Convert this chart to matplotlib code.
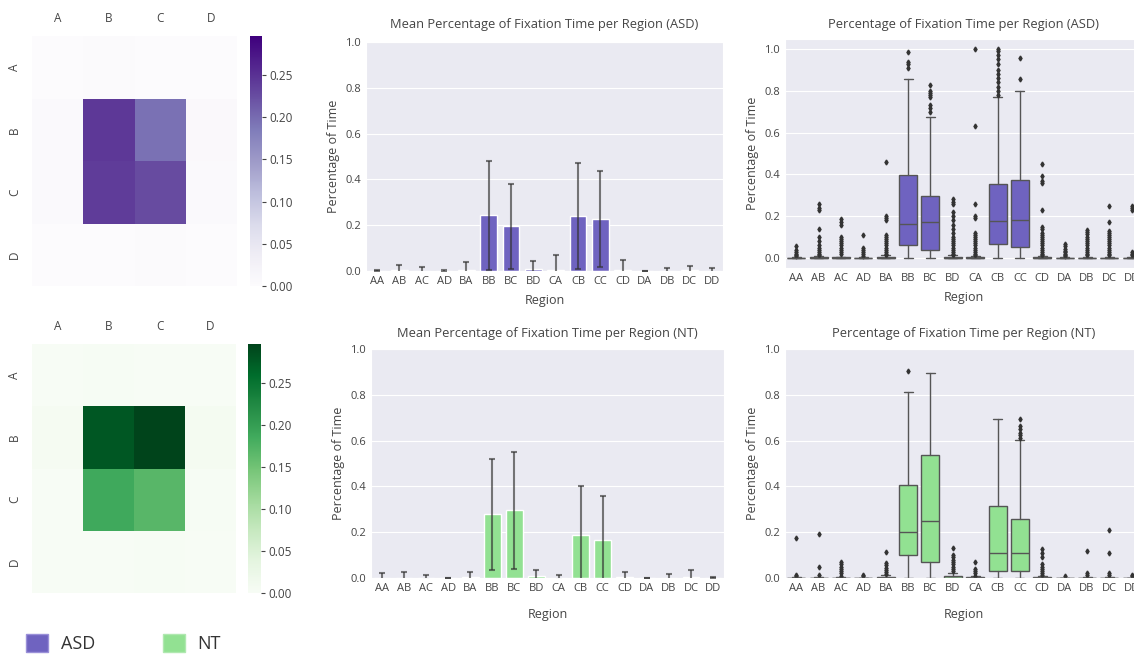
import matplotlib
matplotlib.use("Agg")
import matplotlib.pyplot as plt
import matplotlib.patches as mpatches
import numpy as np
import seaborn as sns

sns.set_style("darkgrid")
plt.rcParams["font.family"] = ["Open Sans", "DejaVu Sans"]

# regions and group colours
letters = ["A", "B", "C", "D"]
regions = [a + b for a in letters for b in letters]
asd_color = "#6f63c0"
nt_color = "#92e192"

# mean fraction of fixation time per region (bar heights / heatmap cells)
asd_mean = [0.002, 0.003, 0.002, 0.001, 0.005, 0.243, 0.195, 0.008,
            0.006, 0.240, 0.227, 0.005, 0.001, 0.002, 0.003, 0.002]
asd_sd = [0.001, 0.025, 0.015, 0.005, 0.034, 0.237, 0.186, 0.036,
          0.065, 0.232, 0.210, 0.042, 0.001, 0.013, 0.019, 0.013]
nt_mean = [0.001, 0.002, 0.001, 0.001, 0.005, 0.278, 0.296, 0.008,
           0.001, 0.187, 0.168, 0.003, 0.001, 0.001, 0.003, 0.001]
nt_sd = [0.022, 0.024, 0.011, 0.001, 0.021, 0.241, 0.255, 0.028,
         0.011, 0.215, 0.189, 0.022, 0.001, 0.015, 0.033, 0.003]

# box plot summaries: q1, median, q3, upper whisker
asd_q1 = [0, 0, 0, 0, 0, 0.061, 0.040, 0, 0, 0.069, 0.053, 0, 0, 0, 0, 0]
asd_med = [0, 0, 0, 0, 0, 0.162, 0.170, 0, 0, 0.179, 0.184, 0, 0, 0, 0, 0]
asd_q3 = [0.002, 0.003, 0.003, 0.001, 0.005, 0.397, 0.296, 0.005,
          0.004, 0.352, 0.371, 0.004, 0.001, 0.002, 0.002, 0.001]
asd_hi = [0.005, 0.008, 0.007, 0.003, 0.012, 0.856, 0.677, 0.012,
          0.010, 0.770, 0.797, 0.010, 0.003, 0.005, 0.005, 0.003]
asd_fliers = [
    [0.058, 0.04, 0.03, 0.02, 0.015, 0.01],
    [0.26, 0.24, 0.23, 0.14, 0.10, 0.08, 0.06, 0.05, 0.04, 0.03, 0.02, 0.015],
    [0.185, 0.17, 0.16, 0.10, 0.09, 0.08, 0.07, 0.06, 0.05, 0.04, 0.03, 0.02],
    [0.11, 0.05, 0.04, 0.03, 0.02, 0.01],
    [0.46, 0.20, 0.19, 0.18, 0.11, 0.10, 0.09, 0.08, 0.07, 0.06, 0.05, 0.04,
     0.03, 0.02, 0.015],
    [0.91, 0.93, 0.94, 0.985],
    [0.70, 0.72, 0.73, 0.77, 0.78, 0.79, 0.80, 0.83],
    [0.28, 0.27, 0.26, 0.22, 0.20, 0.18, 0.16, 0.14, 0.12, 0.10, 0.09, 0.08,
     0.07, 0.06, 0.05, 0.04, 0.03, 0.02, 0.015],
    [1.0, 0.63, 0.26, 0.20, 0.19, 0.12, 0.11, 0.10, 0.09, 0.08, 0.07, 0.06,
     0.05, 0.04, 0.03, 0.02, 0.015],
    [0.78, 0.80, 0.82, 0.84, 0.86, 0.88, 0.90, 0.93, 0.95, 0.97, 0.99, 1.0],
    [0.855, 0.955],
    [0.45, 0.39, 0.37, 0.36, 0.23, 0.15, 0.14, 0.12, 0.11, 0.10, 0.09, 0.08,
     0.07, 0.06, 0.05, 0.04, 0.03, 0.02, 0.015],
    [0.065, 0.055, 0.045, 0.035, 0.03, 0.02, 0.015, 0.01],
    [0.135, 0.125, 0.115, 0.10, 0.09, 0.08, 0.07, 0.06, 0.05, 0.04, 0.03,
     0.02, 0.015],
    [0.25, 0.17, 0.13, 0.12, 0.11, 0.10, 0.09, 0.08, 0.07, 0.06, 0.05, 0.04,
     0.03, 0.02, 0.015],
    [0.25, 0.24, 0.23, 0.03, 0.02, 0.015],
]

nt_q1 = [0, 0, 0, 0, 0, 0.099, 0.070, 0, 0, 0.029, 0.029, 0, 0, 0, 0, 0]
nt_med = [0, 0, 0, 0, 0.002, 0.201, 0.249, 0.002, 0, 0.109, 0.109, 0, 0, 0, 0, 0]
nt_q3 = [0.001, 0.001, 0.002, 0.001, 0.006, 0.405, 0.536, 0.010,
         0.003, 0.315, 0.259, 0.003, 0.001, 0.001, 0.001, 0.001]
nt_hi = [0.003, 0.003, 0.005, 0.002, 0.014, 0.813, 0.894, 0.020,
         0.007, 0.694, 0.602, 0.007, 0.002, 0.003, 0.003, 0.002]
nt_fliers = [
    [0.173, 0.015, 0.01],
    [0.19, 0.048, 0.015],
    [0.07, 0.06, 0.05, 0.04, 0.03, 0.02, 0.01],
    [0.015, 0.01],
    [0.115, 0.065, 0.055, 0.045, 0.035, 0.025, 0.018],
    [0.905],
    [],
    [0.13, 0.10, 0.09, 0.08, 0.07, 0.06, 0.05, 0.04, 0.03],
    [0.07, 0.04, 0.03, 0.02, 0.01],
    [],
    [0.61, 0.625, 0.635, 0.65, 0.665, 0.695],
    [0.125, 0.11, 0.09, 0.06, 0.05, 0.04, 0.03, 0.02, 0.015],
    [0.008],
    [0.12, 0.02, 0.012],
    [0.21, 0.11, 0.02, 0.015],
    [0.015, 0.01],
]

W, H = 1134, 655
fig = plt.figure(figsize=(W / 100, H / 100), dpi=100)


def rect(x0, y0, x1, y1):
    return [x0 / W, 1 - y1 / H, (x1 - x0) / W, (y1 - y0) / H]


text_c = "#444444"
vmax = max(max(asd_mean), max(nt_mean))


def heatmap(ax_pos, cax_pos, means, cmap):
    ax = fig.add_axes(rect(*ax_pos))
    cax = fig.add_axes(rect(*cax_pos))
    mat = np.array(means).reshape(4, 4)
    sns.heatmap(mat, ax=ax, cbar_ax=cax, cmap=cmap, vmin=0, vmax=vmax,
                xticklabels=letters, yticklabels=letters)
    ax.xaxis.tick_top()
    ax.tick_params(length=0, labelsize=8.5, labelcolor=text_c, pad=8)
    for t in ax.get_yticklabels():
        t.set_rotation(90)
        t.set_va("center")
    cax.set_yticks([0, 0.05, 0.10, 0.15, 0.20, 0.25])
    cax.set_yticklabels(["0.00", "0.05", "0.10", "0.15", "0.20", "0.25"])
    cax.tick_params(length=3, width=0.8, color=text_c, labelsize=8.5,
                    labelcolor=text_c, pad=2)


heatmap((32, 36, 237, 286), (250, 36, 262, 286), asd_mean, "Purples")
heatmap((32, 344, 236, 593), (248, 344, 261, 593), nt_mean, "Greens")

x = np.arange(len(regions))


def style(ax, title, pad, lpad):
    ax.set_title(title, fontsize=9.3, color=text_c, pad=pad)
    ax.set_xlabel("Region", fontsize=9, color=text_c, labelpad=lpad)
    ax.set_ylabel("Percentage of Time", fontsize=9, color=text_c)
    ax.set_xticks(x)
    ax.set_xticklabels(regions)
    ax.set_xlim(-0.5, len(regions) - 0.5)
    ax.set_yticks([0, 0.2, 0.4, 0.6, 0.8, 1.0])
    ax.tick_params(length=0, labelsize=8, labelcolor=text_c)
    ax.xaxis.grid(False)


def bars(pos, means, sd, color, title, pad, lpad):
    ax = fig.add_axes(rect(*pos))
    ax.bar(x, means, width=0.75, color=color, zorder=2)
    ax.errorbar(x, means, yerr=sd, fmt="none", ecolor="#333333", alpha=0.65,
                elinewidth=1.5, capsize=2, capthick=1.5, zorder=3)
    ax.set_ylim(0, 1)
    style(ax, title, pad, lpad)


def boxes(pos, q1, med, q3, hi, fliers, color, title, ylim, pad, lpad):
    ax = fig.add_axes(rect(*pos))
    stats = [dict(q1=a, med=b, q3=c, whislo=0.0, whishi=d, fliers=f)
             for a, b, c, d, f in zip(q1, med, q3, hi, fliers)]
    edge = "#555555"
    ax.bxp(stats, positions=x, widths=0.8, patch_artist=True,
           boxprops=dict(facecolor=color, edgecolor=edge, linewidth=1),
           medianprops=dict(color=edge, linewidth=1),
           whiskerprops=dict(color=edge, linewidth=1),
           capprops=dict(color=edge, linewidth=1),
           flierprops=dict(marker="d", markersize=2.5, markerfacecolor="#333333",
                           markeredgecolor="#333333"))
    ax.set_ylim(*ylim)
    style(ax, title, pad, lpad)


bars((366, 42, 723, 271), asd_mean, asd_sd, asd_color,
     "Mean Percentage of Fixation Time per Region (ASD)", 10, 5)
bars((371, 349, 724, 578), nt_mean, nt_sd, nt_color,
     "Mean Percentage of Fixation Time per Region (NT)", 9, 10)
boxes((785, 39, 1143, 268), asd_q1, asd_med, asd_q3, asd_hi, asd_fliers,
      asd_color, "Percentage of Fixation Time per Region (ASD)",
      (-0.048, 1.048), 8, 5)
boxes((785, 349, 1143, 578), nt_q1, nt_med, nt_q3, nt_hi, nt_fliers,
      nt_color, "Percentage of Fixation Time per Region (NT)", (0, 1), 9, 10)

handles = [mpatches.Patch(facecolor=asd_color, edgecolor="#9a90d8", label="ASD"),
           mpatches.Patch(facecolor=nt_color, edgecolor="#b0e8b0", label="NT")]
fig.legend(handles=handles, loc="center left", bbox_to_anchor=(0.012, 0.018),
           ncol=2, frameon=False, fontsize=13, handlelength=1.2,
           handleheight=1.15, handletextpad=0.7, columnspacing=3.8,
           labelcolor="#333333", borderpad=0.2)

fig.savefig("out.png", dpi=100)
